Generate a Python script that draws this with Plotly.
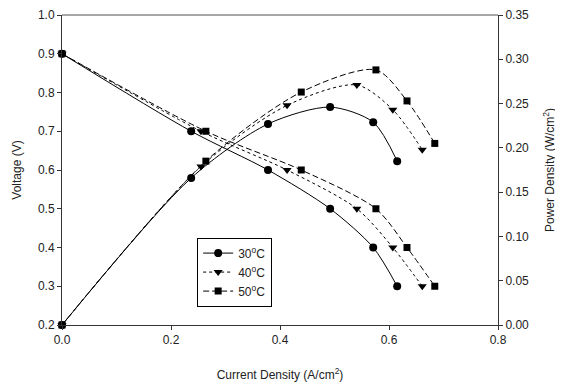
import plotly.graph_objects as go

current_30 = [0.0, 0.237, 0.378, 0.492, 0.571, 0.615]
current_40 = [0.0, 0.255, 0.413, 0.541, 0.607, 0.661]
current_50 = [0.0, 0.264, 0.439, 0.576, 0.633, 0.684]
voltage = [0.9, 0.7, 0.6, 0.5, 0.4, 0.3]
power_30 = [0.0, 0.166, 0.227, 0.246, 0.229, 0.185]
power_40 = [0.0, 0.179, 0.248, 0.271, 0.243, 0.198]
power_50 = [0.0, 0.185, 0.263, 0.288, 0.253, 0.205]

labels = ["30<sup>o</sup>C", "40<sup>o</sup>C", "50<sup>o</sup>C"]
series = [
    (current_30, power_30, "circle", "solid", 8),
    (current_40, power_40, "triangle-down", "dot", 8),
    (current_50, power_50, "square", "6px,3px", 7),
]

fig = go.Figure()
for (cur, pw, sym, dash, ms), lab in zip(series, labels):
    fig.add_trace(go.Scatter(
        x=cur, y=voltage, mode="lines+markers", name=lab, legendgroup=lab,
        line=dict(color="black", width=1, dash=dash, shape="spline", smoothing=0.8),
        marker=dict(symbol=sym, size=ms, color="black"),
        cliponaxis=False, yaxis="y"))
for (cur, pw, sym, dash, ms), lab in zip(series, labels):
    fig.add_trace(go.Scatter(
        x=cur, y=pw, mode="lines+markers", name=lab, legendgroup=lab, showlegend=False,
        line=dict(color="black", width=1, dash=dash, shape="spline", smoothing=0.8),
        marker=dict(symbol=sym, size=ms, color="black"),
        cliponaxis=False, yaxis="y2"))

fam = "Liberation Sans, Arial, sans-serif"
font = dict(family=fam, size=12, color="#222")
axis_common = dict(showgrid=False, zeroline=False, showline=True, linecolor="#333",
                   linewidth=1, ticks="outside", ticklen=4, tickcolor="#333",
                   automargin=False, tickfont=font, ticklabeloverflow="allow")
# page body has an 8px default margin, so the figure is sized to fit the window
fig.update_layout(
    width=555, height=379,
    margin=dict(l=54, r=65, t=7, b=62),
    paper_bgcolor="white", plot_bgcolor="white",
    font=font,
    showlegend=True,
    legend=dict(x=0.31, y=0.282, xanchor="left", yanchor="top",
                bordercolor="black", borderwidth=1, bgcolor="white",
                font=font, tracegroupgap=0, itemwidth=30),
    xaxis=dict(range=[0, 0.8], dtick=0.2, tickformat=".1f",
               title=dict(text="Current Density (A/cm<sup>2</sup>)", standoff=24, font=font),
               **axis_common),
    yaxis=dict(range=[0.2, 1.0], dtick=0.1, tickformat=".1f",
               title=dict(text="Voltage (V)", standoff=13, font=font), **axis_common),
    yaxis2=dict(range=[0, 0.35], dtick=0.05, tickformat=".2f", overlaying="y", side="right",
                title=dict(text="Power Density (W/cm<sup>2</sup>)", standoff=17, font=font),
                **axis_common),
    shapes=[dict(type="line", xref="paper", yref="paper", x0=0, x1=1, y0=1, y1=1,
                 line=dict(color="#888", width=1.5))],
)

fig.write_html("out.html")
